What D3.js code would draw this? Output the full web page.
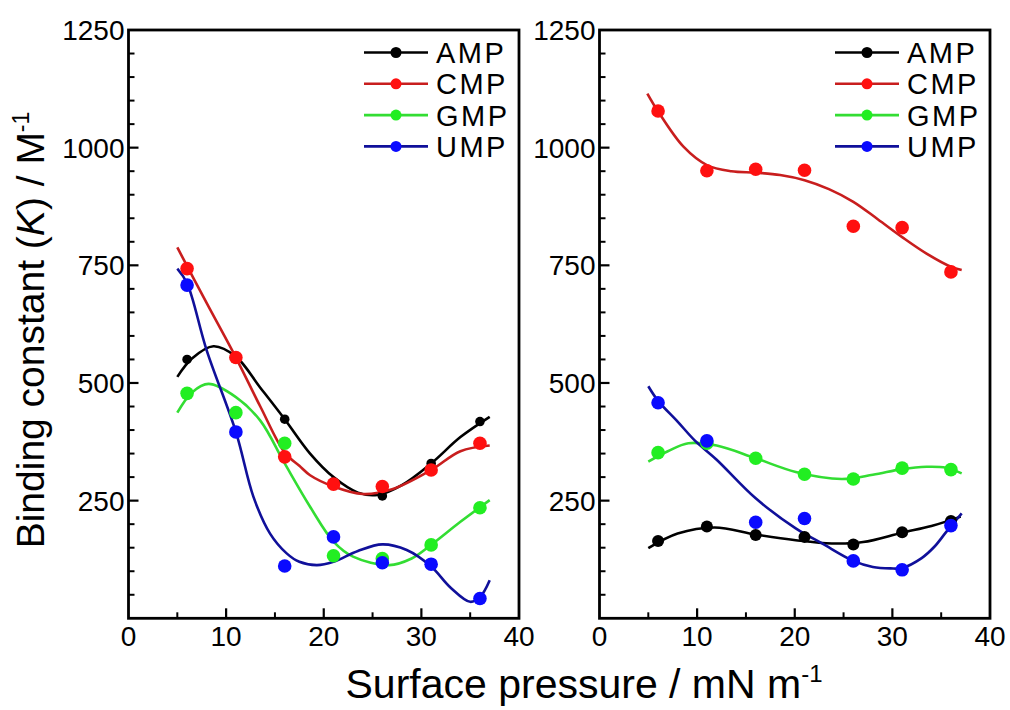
<!DOCTYPE html>
<html><head><meta charset="utf-8">
<script src="https://cdn.jsdelivr.net/npm/d3@7"></script>
<style>
html,body{margin:0;padding:0;background:#fff;}
svg{display:block;font-family:"Liberation Sans",Arial,sans-serif;}
text{white-space:pre;}
</style></head>
<body>
<svg id="chart" width="1010" height="710"></svg>
<script>
// ---------- data ----------
const seriesNames = ["AMP", "CMP", "GMP", "UMP"];
const pressure = [6, 11, 16, 21, 26, 31, 36];
const xTickLabels = [0, 10, 20, 30, 40];
const yTickLabels = [250, 500, 750, 1000, 1250];

// left panel measured points
const leftAMP = [550, 556, 423, 290, 260, 329, 418];
const leftCMP = [743, 554, 343, 285, 280, 315, 372];
const leftGMP = [478, 437, 372, 133, 127, 156, 235];
const leftUMP = [708, 396, 111, 173, 118, 115, 42];
// right panel measured points
const rightAMP = [164, 195, 177, 173, 157, 183, 207];
const rightCMP = [1078, 951, 954, 952, 833, 830, 736];
const rightGMP = [352, 372, 340, 306, 296, 319, 316];
const rightUMP = [458, 377, 204, 212, 122, 103, 197];

// fitted curves: [pressure, K]
const leftAMPFit = [[5,513],[6.5,552],[8.7,578],[11,556],[13.5,490],[16,423],[18.6,350],[21,300],[23.5,267],[25.5,262],[28,283],[31,329],[34,385],[37,428]];
const leftCMPFit = [[5,788],[8,670],[11,554],[13.5,450],[16,352],[17.5,324],[18.6,304],[21,280],[24,264],[27,274],[31,315],[34,355],[37,367]];
const leftGMPFit = [[5,437],[6.5,480],[8.2,498],[11,470],[13.5,420],[16,329],[18.6,237],[21,163],[23,131],[26.7,113],[29,127],[31,156],[34,205],[37,251]];
const leftUMPFit = [[5,743],[6,712],[8,570],[11,396],[12.8,258],[14.5,180],[16.2,138],[17.5,120],[19.3,113],[21,120],[23.5,143],[26,157],[28.5,145],[31,110],[33,65],[35,35],[36,45],[37,81]];
const rightAMPFit = [[5,149],[8,180],[11.8,193],[16,178],[20.1,166],[23.8,159],[27,162],[31,182],[34,196],[37,216]];
const rightCMPFit = [[4.9,1115],[6,1077],[8.6,1002],[11,963],[13.5,950],[16,947],[18.5,942],[21,931],[23.5,912],[26,885],[28.5,848],[31,810],[33.5,775],[36,747],[37.1,740]];
const rightGMPFit = [[5,333],[7,355],[9.1,372],[12,367],[16,340],[20.1,311],[24.8,296],[28,305],[31,317],[33.5,322],[35.5,320],[37.1,308]];
const rightUMPFit = [[5,493],[6,462],[8,418],[9.8,377],[12,337],[16,255],[20.1,191],[22.8,159],[26,122],[28,109],[29.8,106],[31,107],[33,128],[34.3,152],[35.5,183],[37.1,223]];

// ---------- styles ----------
const dotColor = {AMP:"#000000", CMP:"#ff1010", GMP:"#22ee22", UMP:"#0a0aff"};
const lineColor = {AMP:"#000000", CMP:"#c81e1e", GMP:"#33dd33", UMP:"#10109a"};

const svg = d3.select("#chart");
const yTop = 30, yBottom = 618.3;
const panels = [
  {x0:128.5, x1:519, pts:{AMP:leftAMP, CMP:leftCMP, GMP:leftGMP, UMP:leftUMP},
   fits:{AMP:leftAMPFit, CMP:leftCMPFit, GMP:leftGMPFit, UMP:leftUMPFit}, rAMP:4.8},
  {x0:599.5, x1:990, pts:{AMP:rightAMP, CMP:rightCMP, GMP:rightGMP, UMP:rightUMP},
   fits:{AMP:rightAMPFit, CMP:rightCMPFit, GMP:rightGMPFit, UMP:rightUMPFit}, rAMP:6}
];

panels.forEach(p => {
  const x = d3.scaleLinear().domain([0, 40]).range([p.x0, p.x1]);
  const y = d3.scaleLinear().domain([0, 1250]).range([yBottom, yTop]);
  const g = svg.append("g");

  // minor / major ticks (inward)
  const yMinor = d3.range(50, 1250, 50).filter(v => v % 250 !== 0);
  const yMajor = d3.range(250, 1250, 250);
  g.selectAll(".ymin").data(yMinor).enter().append("line")
    .attr("x1", x(0)).attr("x2", x(0) + 6).attr("y1", d => y(d)).attr("y2", d => y(d))
    .attr("stroke", "#000").attr("stroke-width", 2);
  g.selectAll(".ymaj").data(yMajor).enter().append("line")
    .attr("x1", x(0)).attr("x2", x(0) + 10).attr("y1", d => y(d)).attr("y2", d => y(d))
    .attr("stroke", "#000").attr("stroke-width", 2.2);
  const xMinor = [5, 15, 25, 35], xMajor = [10, 20, 30];
  g.selectAll(".xmin").data(xMinor).enter().append("line")
    .attr("x1", d => x(d)).attr("x2", d => x(d)).attr("y1", y(0)).attr("y2", y(0) - 6)
    .attr("stroke", "#000").attr("stroke-width", 2);
  g.selectAll(".xmaj").data(xMajor).enter().append("line")
    .attr("x1", d => x(d)).attr("x2", d => x(d)).attr("y1", y(0)).attr("y2", y(0) - 10)
    .attr("stroke", "#000").attr("stroke-width", 2.2);

  // frame
  g.append("rect").attr("x", x(0)).attr("y", y(1250)).attr("width", x(40) - x(0)).attr("height", y(0) - y(1250))
    .attr("fill", "none").attr("stroke", "#000").attr("stroke-width", 2.8);

  // tick labels
  g.selectAll(".yl").data(yTickLabels).enter().append("text")
    .attr("x", x(0) - 4).attr("y", d => y(d) + 10).attr("text-anchor", "end")
    .attr("font-size", 28).text(d => d);
  g.selectAll(".xl").data(xTickLabels).enter().append("text")
    .attr("x", d => x(d)).attr("y", 646).attr("text-anchor", "middle")
    .attr("font-size", 28).text(d => d);

  // fitted curves
  const line = d3.line().x(d => x(d[0])).y(d => y(d[1])).curve(d3.curveCatmullRom.alpha(0.5));
  seriesNames.forEach(s => {
    g.append("path").datum(p.fits[s]).attr("d", line)
      .attr("fill", "none").attr("stroke", lineColor[s]).attr("stroke-width", 2.6);
  });
  // points
  seriesNames.forEach(s => {
    g.selectAll(".pt" + s).data(p.pts[s].map((v, i) => [pressure[i], v])).enter().append("circle")
      .attr("cx", d => x(d[0])).attr("cy", d => y(d[1]))
      .attr("r", s === "AMP" ? p.rAMP : 6.8).attr("fill", dotColor[s]);
  });

  // legend
  const lx0 = x(40) - 155, lx1 = x(40) - 91, ltx = x(40) - 83;
  seriesNames.forEach((s, i) => {
    const ly = 52.5 + i * 31.3;
    g.append("line").attr("x1", lx0).attr("x2", lx1).attr("y1", ly).attr("y2", ly)
      .attr("stroke", lineColor[s]).attr("stroke-width", 2.6);
    g.append("circle").attr("cx", (lx0 + lx1) / 2).attr("cy", ly).attr("r", 5.5).attr("fill", dotColor[s]);
    g.append("text").attr("x", ltx).attr("y", ly + 10.5).attr("font-size", 29)
      .attr("letter-spacing", 2.5).text(s);
  });
});

// axis titles
const yt = svg.append("text").attr("transform", "translate(44,330) rotate(-90)")
  .attr("text-anchor", "middle").attr("font-size", 39);
yt.append("tspan").text("Binding constant (");
yt.append("tspan").attr("font-style", "italic").text("K");
yt.append("tspan").text(") / M");
yt.append("tspan").attr("font-size", 23).attr("dy", -15).text("-1");

const xt = svg.append("text").attr("x", 584).attr("y", 698)
  .attr("text-anchor", "middle").attr("font-size", 41);
xt.append("tspan").text("Surface pressure / mN m");
xt.append("tspan").attr("font-size", 24).attr("dy", -16).text("-1");
</script>
</body></html>
